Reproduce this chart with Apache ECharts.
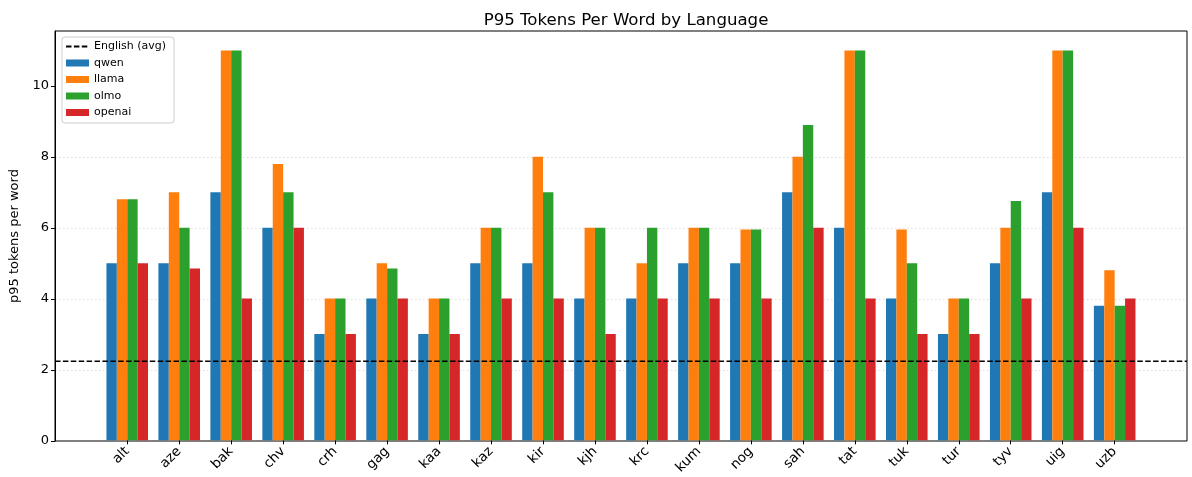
<!DOCTYPE html>
<html>
<head>
<meta charset="utf-8">
<script src="https://cdn.jsdelivr.net/npm/echarts@6/dist/echarts.min.js"></script>
<style>
  html, body { margin: 0; padding: 0; background: #fff; }
  #chart { width: 1192px; height: 477px; }
</style>
</head>
<body>
<div id="chart"></div>
<script>
var chart = echarts.init(document.getElementById('chart'));

// languages and p95 tokens per word for each tokenizer
var languages = ['alt', 'aze', 'bak', 'chv', 'crh', 'gag', 'kaa', 'kaz', 'kir', 'kjh',
                 'krc', 'kum', 'nog', 'sah', 'tat', 'tuk', 'tur', 'tyv', 'uig', 'uzb'];
var qwen   = [5, 5, 7, 6, 3, 4, 3, 5, 5, 4, 4, 5, 5, 7, 6, 4, 3, 5, 7, 3.8];
var llama  = [6.8, 7, 11, 7.8, 4, 5, 4, 6, 8, 6, 5, 6, 5.95, 8, 11, 5.95, 4, 6, 11, 4.8];
var olmo   = [6.8, 6, 11, 7, 4, 4.85, 4, 6, 7, 6, 6, 6, 5.95, 8.9, 11, 5, 4, 6.75, 11, 3.8];
var openai = [5, 4.85, 4, 6, 3, 4, 3, 4, 4, 3, 4, 4, 4, 6, 4, 3, 3, 4, 6, 4];
var englishAvg = 2.25;
var yTicks = [0, 2, 4, 6, 8, 10];

var colors = ['#1f77b4', '#ff7f0e', '#2ca02c', '#d62728'];
var font = 'DejaVu Sans';
var yMax = 11.55;

function barSeries(name, data, color) {
    return {
        name: name,
        type: 'bar',
        xAxisIndex: 1,
        yAxisIndex: 1,
        barWidth: '20%',
        barGap: '0%',
        itemStyle: { color: color },
        data: data
    };
}

var option = {
    animation: false,
    textStyle: { fontFamily: font },
    title: {
        text: 'P95 Tokens Per Word by Language',
        left: 621,
        top: 7,
        textAlign: 'center',
        textStyle: { fontFamily: font, fontSize: 16.6, fontWeight: 'normal', color: '#000' }
    },
    legend: {
        orient: 'vertical',
        left: 62,
        top: 37,
        padding: [4, 8, 5, 3],
        itemGap: 5.5,
        itemWidth: 23,
        itemHeight: 7,
        backgroundColor: 'rgba(255,255,255,0.8)',
        borderColor: '#cccccc',
        borderWidth: 1,
        borderRadius: 3,
        textStyle: { fontFamily: font, fontSize: 11, color: '#000' },
        data: [
            { name: 'English (avg)', itemStyle: { opacity: 0 } },
            { name: 'qwen', icon: 'rect' },
            { name: 'llama', icon: 'rect' },
            { name: 'olmo', icon: 'rect' },
            { name: 'openai', icon: 'rect' }
        ]
    },
    grid: [
        { left: 55, right: 5, top: 31, bottom: 36, show: true, borderColor: '#000', borderWidth: 1, backgroundColor: 'transparent' },
        { left: 101.25, right: 51.34, top: 31, bottom: 36 }
    ],
    xAxis: [
        { type: 'value', gridIndex: 0, min: 0, max: 1, show: false },
        {
            type: 'category',
            gridIndex: 1,
            data: languages,
            boundaryGap: true,
            axisLine: { show: false },
            axisTick: { show: true, alignWithLabel: true, length: 4, lineStyle: { color: '#000' } },
            axisLabel: { rotate: 45, color: '#000', fontSize: 13.5, fontFamily: font, margin: 9, interval: 0 }
        }
    ],
    yAxis: [
        {
            type: 'value',
            gridIndex: 0,
            min: 0,
            max: yMax,
            interval: 2,
            name: 'p95 tokens per word',
            nameLocation: 'middle',
            nameGap: 32,
            nameTextStyle: { fontFamily: font, fontSize: 13, color: '#000' },
            axisLine: { show: true, lineStyle: { color: '#000' } },
            axisTick: { show: true, length: 4, lineStyle: { color: '#000' }, customValues: yTicks },
            axisLabel: { color: '#000', fontSize: 13, fontFamily: font, margin: 6, customValues: yTicks },
            splitLine: { show: true, showMinLine: false, showMaxLine: false, lineStyle: { color: '#dddddd', type: [1.5, 2.5], width: 1 } }
        },
        { type: 'value', gridIndex: 1, min: 0, max: yMax, show: false, splitLine: { show: false } }
    ],
    series: [
        {
            name: 'English (avg)',
            type: 'line',
            xAxisIndex: 0,
            yAxisIndex: 0,
            symbol: 'none',
            z: 5,
            lineStyle: { color: '#000', width: 1.5, type: [5.5, 2.4] },
            itemStyle: { color: '#000' },
            data: [[0, englishAvg], [1, englishAvg]]
        },
        barSeries('qwen', qwen, colors[0]),
        barSeries('llama', llama, colors[1]),
        barSeries('olmo', olmo, colors[2]),
        barSeries('openai', openai, colors[3])
    ]
};
chart.setOption(option);
</script>
</body>
</html>
